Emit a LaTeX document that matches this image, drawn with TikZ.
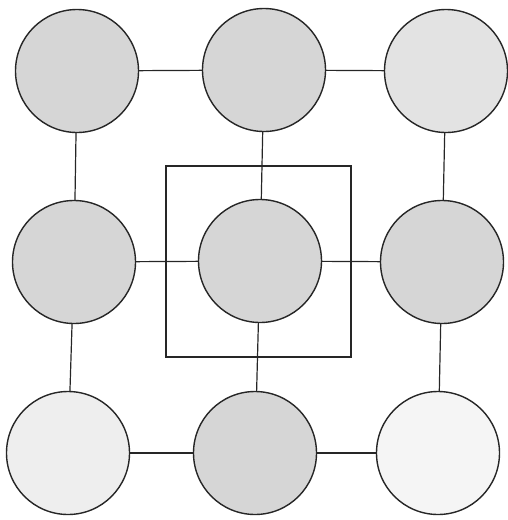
\documentclass[tikz,border=0pt]{standalone}
\begin{document}
\begin{tikzpicture}[x=1pt,y=-1pt,
  cell/.style={circle,draw=black!85,line width=1.4pt,minimum size=123pt,inner sep=0pt},
  dark/.style={cell,fill=gray!32},
  mid/.style={cell,fill=gray!22},
  light/.style={cell,fill=gray!13},
  link/.style={draw=black!85,line width=1.2pt}]
\useasboundingbox (0,0) rectangle (507,520);
\node[draw=black!85,line width=1.1pt,minimum width=185pt,minimum height=191pt,inner sep=0pt] (frame) at (258.5,261.5) {};
\node[dark]  (a1) at (77,71) {};
\node[dark]  (a2) at (264,70) {};
\node[mid]   (a3) at (446,71) {};
\node[dark]  (b1) at (74,262) {};
\node[dark]  (b2) at (260,261) {};
\node[dark]  (b3) at (442,262) {};
\node[light] (c1) at (68,453) {};
\node[dark]  (c2) at (255,453) {};
\node[cell,fill=gray!8] (c3) at (438,453) {};
\foreach \u/\v in {a1/a2,a2/a3,b1/b2,b2/b3,c1/c2,c2/c3,a1/b1,b1/c1,a2/b2,b2/c2,a3/b3,b3/c3}
  \draw[link] (\u) -- (\v);
\end{tikzpicture}
\end{document}
